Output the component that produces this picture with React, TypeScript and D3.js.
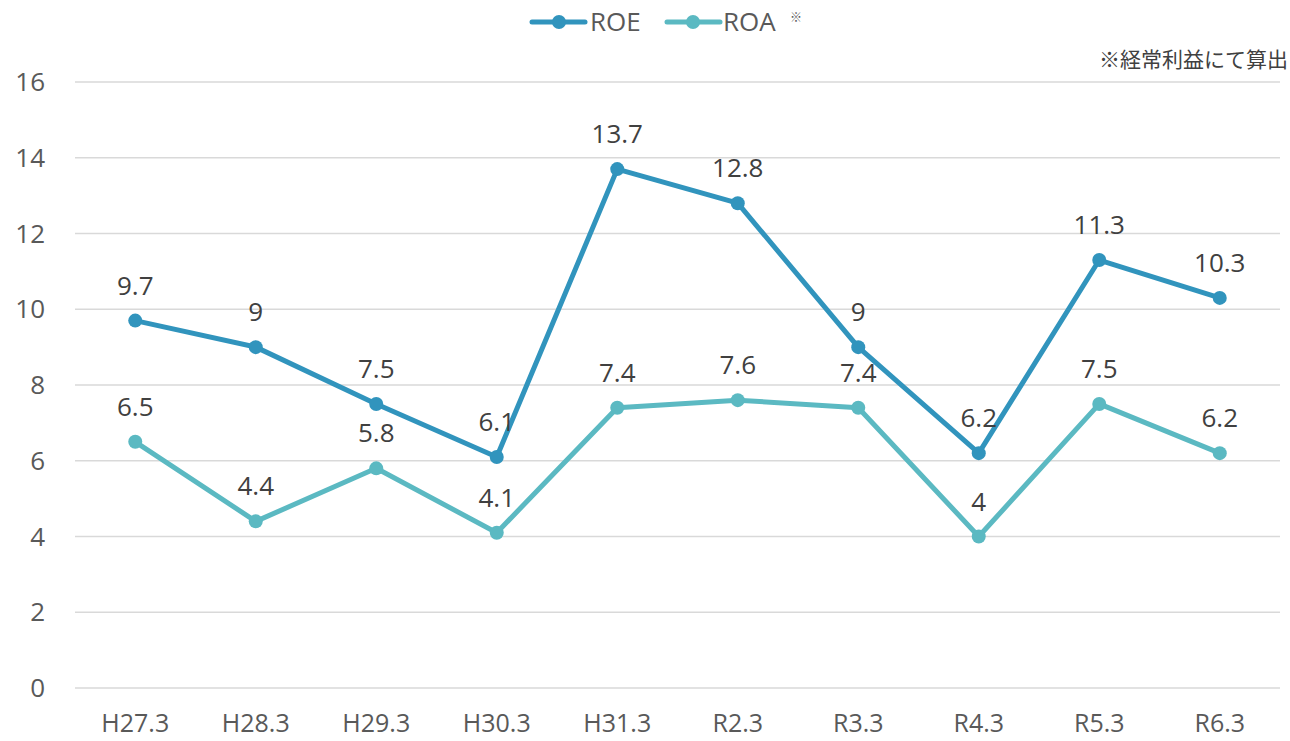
import React from "react";
import * as d3 from "d3";

const categories = ["H27.3", "H28.3", "H29.3", "H30.3", "H31.3", "R2.3", "R3.3", "R4.3", "R5.3", "R6.3"];
const roe = [9.7, 9, 7.5, 6.1, 13.7, 12.8, 9, 6.2, 11.3, 10.3];
const roa = [6.5, 4.4, 5.8, 4.1, 7.4, 7.6, 7.4, 4, 7.5, 6.2];
const yTicks = [0, 2, 4, 6, 8, 10, 12, 14, 16];

const W = 1290, H = 741;
const FONT = "'Open Sans', 'Noto Sans CJK JP', sans-serif";
const ROE_C = "#3194BD";
const ROA_C = "#5BB9C2";

export default function App() {
  const x = d3.scaleBand<string>().domain(categories).range([75, 1280]);
  const y = d3.scaleLinear().domain([0, 16]).range([688, 82]);
  const cx = (c: string) => (x(c) as number) + x.bandwidth() / 2;
  const line = d3.line<number>().x((_, i) => cx(categories[i])).y((d) => y(d));
  const series = [
    { name: "ROE", data: roe, color: ROE_C },
    { name: "ROA", data: roa, color: ROA_C },
  ];
  return (
    <svg width={W} height={H} style={{ position: "absolute", left: 0, top: 0 }} fontFamily={FONT}>
      <rect width={W} height={H} fill="#fff" />
      {yTicks.map((t) => (
        <g key={t}>
          <line x1={75} x2={1280} y1={y(t)} y2={y(t)} stroke="#D9D9D9" strokeWidth={1.5} />
          <text x={45} y={y(t)} dy="0.35em" textAnchor="end" fontSize={26} fill="#595959">{t}</text>
        </g>
      ))}
      {categories.map((c) => (
        <text key={c} x={cx(c)} y={732} textAnchor="middle" fontSize={25} fill="#595959">{c}</text>
      ))}
      {series.map((s) => (
        <g key={s.name}>
          <path d={line(s.data) || ""} fill="none" stroke={s.color} strokeWidth={5} strokeLinejoin="round" />
          {s.data.map((v, i) => (
            <circle key={i} cx={cx(categories[i])} cy={y(v)} r={7} fill={s.color} />
          ))}
          {s.data.map((v, i) => (
            <text key={"l" + i} x={cx(categories[i])} y={y(v) - 26} textAnchor="middle" fontSize={26} fill="#404040">{v}</text>
          ))}
        </g>
      ))}
      {/* legend */}
      <g>
        <line x1={532} x2={585} y1={22} y2={22} stroke={ROE_C} strokeWidth={5} strokeLinecap="round" />
        <circle cx={559} cy={22} r={7} fill={ROE_C} />
        <text x={590} y={22} dy="0.35em" fontSize={26} fill="#595959">ROE</text>
        <line x1={667} x2={720} y1={22} y2={22} stroke={ROA_C} strokeWidth={5} strokeLinecap="round" />
        <circle cx={693} cy={22} r={7} fill={ROA_C} />
        <text x={723} y={22} dy="0.35em" fontSize={26} fill="#595959">ROA</text>
        <text x={790} y={22} fontSize={12} fill="#595959">※</text>
      </g>
      <text x={1288} y={60} dy="0.35em" textAnchor="end" fontSize={21} fill="#404040">※経常利益にて算出</text>
    </svg>
  );
}
